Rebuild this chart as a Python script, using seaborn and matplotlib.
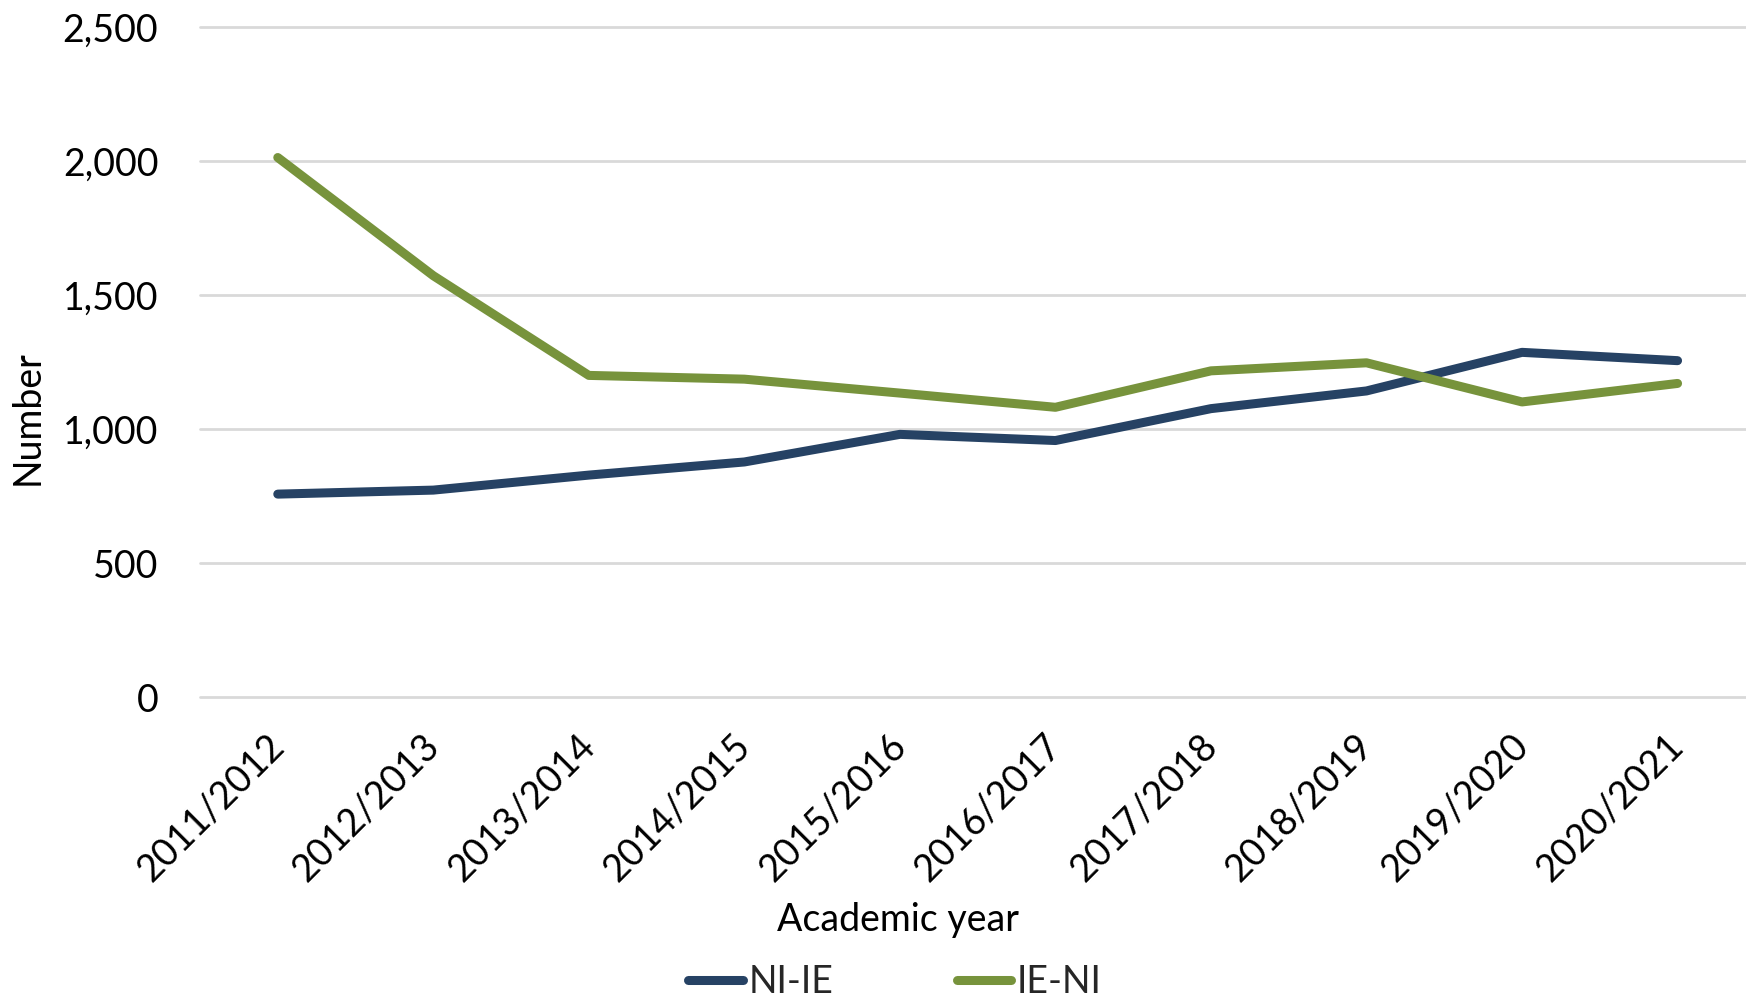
import matplotlib
matplotlib.use("Agg")
import matplotlib.pyplot as plt
import seaborn as sns
import pandas as pd
from matplotlib.ticker import FuncFormatter

# Academic years and counts of students moving in each direction
years = ["2011/2012", "2012/2013", "2013/2014", "2014/2015", "2015/2016",
         "2016/2017", "2017/2018", "2018/2019", "2019/2020", "2020/2021"]
ni_ie = [757, 772, 828, 877, 980, 957, 1076, 1142, 1286, 1255]
ie_ni = [2013, 1572, 1200, 1186, 1134, 1081, 1217, 1247, 1101, 1170]
series_names = ["NI-IE", "IE-NI"]
colors = ["#264264", "#77933C"]

df = pd.concat([
    pd.DataFrame({"year": years, "value": ni_ie, "series": series_names[0]}),
    pd.DataFrame({"year": years, "value": ie_ni, "series": series_names[1]}),
], ignore_index=True)

sns.set_theme(style="white")
plt.rcParams["font.family"] = ["Lato", "DejaVu Sans"]

W, H = 1746, 998
fig = plt.figure(figsize=(W / 100, H / 100), dpi=100)
ax_bottom, ax_top = 697, 27
ax = fig.add_axes([200 / W, 1 - ax_bottom / H, (W - 200) / W, (ax_bottom - ax_top) / H])

sns.lineplot(data=df, x="year", y="value", hue="series", hue_order=series_names,
             palette=colors, linewidth=6.5, sort=False, ax=ax, legend=False,
             solid_capstyle="round")

ax.set_xlim(-0.5, 9.44)
ax.set_ylim(0, 2500)
ax.set_yticks([0, 500, 1000, 1500, 2000, 2500])
ax.yaxis.set_major_formatter(FuncFormatter(lambda v, p: f"{int(v):,}"))
ax.grid(axis="y", color="#D9D9D9", linewidth=2)
ax.grid(axis="x", visible=False)
for gl in ax.get_ygridlines():
    gl.set_clip_on(False)
for s in ax.spines.values():
    s.set_visible(False)

ax.tick_params(axis="y", length=0, pad=30, labelsize=27, labelcolor="black")
ax.tick_params(axis="x", length=0, pad=31, labelsize=27, labelcolor="black")
for lbl in ax.get_xticklabels():
    lbl.set_rotation(45)
    lbl.set_ha("right")
    lbl.set_va("center")
    lbl.set_rotation_mode("anchor")

ax.set_xlabel("Academic year", fontsize=27, color="black")
ax.xaxis.set_label_coords((898 - 200) / (W - 200),
                          -(920 - ax_bottom) / (ax_bottom - ax_top))
ax.xaxis.label.set_va("center")
ax.set_ylabel("")
fig.text(28 / W, 1 - 418 / H, "Number", rotation=90, ha="center", va="center",
         fontsize=27, color="black")

handles = [plt.Line2D([], [], color=c, linewidth=6.5, solid_capstyle="round")
           for c in colors]
fig.legend(handles, series_names, loc="center", bbox_to_anchor=(895 / W, 1 - 982 / H),
           ncol=2, frameon=False, fontsize=27, handlelength=1.45,
           handletextpad=0.15, columnspacing=3.3, borderaxespad=0)

fig.savefig("out.png", dpi=100)
